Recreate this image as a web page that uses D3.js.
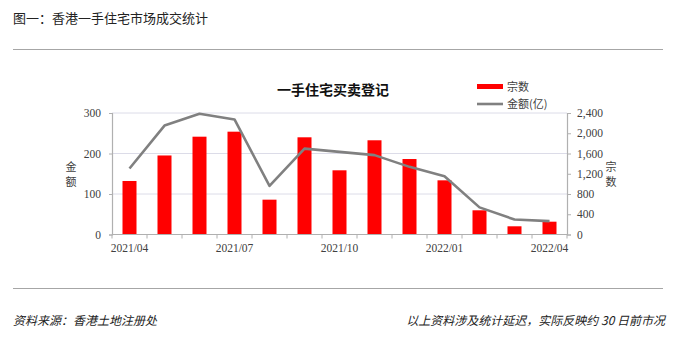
<!DOCTYPE html>
<html>
<head>
<meta charset="utf-8">
<script src="https://cdn.jsdelivr.net/npm/d3@7"></script>
<style>
  html, body { margin: 0; padding: 0; background: #fff; }
  svg { display: block; }
</style>
</head>
<body>
<svg id="chart" width="676" height="348"></svg>
<script>
// Monthly first-hand residential transactions, Hong Kong
const months = ["2021/04","2021/05","2021/06","2021/07","2021/08","2021/09","2021/10",
                "2021/11","2021/12","2022/01","2022/02","2022/03","2022/04"];
// number of deals (right axis)
const dealCounts = [1057, 1561, 1932, 2031, 688, 1920, 1268, 1861, 1491, 1070, 478, 162, 253];
// consideration, HK$ 100m (left axis)
const amounts = [163, 269, 298, 284, 120, 212, 204, 196, 167, 144, 67, 37, 33];
const leftTicks = [0, 100, 200, 300];
const rightTicks = [0, 400, 800, 1200, 1600, 2000, 2400];
const xLabelMonths = ["2021/04","2021/07","2021/10","2022/01","2022/04"];

const svg = d3.select("#chart");
const serif = "'Liberation Serif','DejaVu Serif',serif";
const cjk = "'Noto Sans CJK SC','Noto Sans CJK JP',sans-serif";

const plot = { left: 112, right: 567, top: 113, bottom: 234.5 };

const x = d3.scaleBand().domain(months)
  .range([plot.left, plot.right]).paddingInner(0.6).paddingOuter(0.3);
const yL = d3.scaleLinear().domain([0, 300]).range([plot.bottom, plot.top]);
const yR = d3.scaleLinear().domain([0, 2400]).range([plot.bottom, plot.top]);

// header
svg.append("text").attr("x", 13).attr("y", 23)
  .attr("font-family", cjk).attr("font-size", 13).attr("fill", "#222")
  .text("图一：香港一手住宅市场成交统计");
svg.append("line").attr("x1", 13).attr("x2", 663).attr("y1", 49.5).attr("y2", 49.5)
  .attr("stroke", "#a6a6a6").attr("stroke-width", 1.2);
svg.append("line").attr("x1", 13).attr("x2", 663).attr("y1", 288.5).attr("y2", 288.5)
  .attr("stroke", "#a6a6a6").attr("stroke-width", 1.2);

// footer
svg.append("text").attr("x", 13).attr("y", 325)
  .attr("font-family", cjk).attr("font-size", 12).attr("font-style", "italic")
  .attr("fill", "#222").text("资料来源：香港土地注册处");
svg.append("text").attr("x", 665).attr("y", 325).attr("text-anchor", "end")
  .attr("font-family", cjk).attr("font-size", 12).attr("font-style", "italic")
  .attr("fill", "#222").text("以上资料涉及统计延迟，实际反映约 30 日前市况");

// chart title
svg.append("text").attr("x", 333).attr("y", 95).attr("text-anchor", "middle")
  .attr("font-family", cjk).attr("font-size", 14).attr("font-weight", "bold")
  .attr("fill", "#111").text("一手住宅买卖登记");

// gridlines
svg.append("g").selectAll("line").data(leftTicks.filter(d => d > 0)).join("line")
  .attr("x1", plot.left).attr("x2", plot.right)
  .attr("y1", d => yL(d)).attr("y2", d => yL(d))
  .attr("stroke", "#dcdce8").attr("stroke-width", 1);

// bars: deal counts on the right scale
svg.append("g").selectAll("rect").data(months).join("rect")
  .attr("x", d => x(d)).attr("width", x.bandwidth())
  .attr("y", (d, i) => yR(dealCounts[i]))
  .attr("height", (d, i) => yR(0) - yR(dealCounts[i]))
  .attr("fill", "#ff0000");

// line: amount on the left scale
const line = d3.line()
  .x((d, i) => x(months[i]) + x.bandwidth() / 2)
  .y(d => yL(d));
svg.append("path").datum(amounts).attr("d", line)
  .attr("fill", "none").attr("stroke", "#808080").attr("stroke-width", 2.6)
  .attr("stroke-linejoin", "round");

// left axis
const axisL = svg.append("g").attr("transform", `translate(${plot.left},0)`)
  .call(d3.axisLeft(yL).tickValues(leftTicks).tickSize(3).tickPadding(8));
// right axis
const axisR = svg.append("g").attr("transform", `translate(${plot.right},0)`)
  .call(d3.axisRight(yR).tickValues(rightTicks).tickFormat(d3.format(",")).tickSize(4).tickPadding(6));
[axisL, axisR].forEach(a => {
  a.select(".domain").attr("stroke", "#b0b0b0").attr("stroke-width", 1.2);
  a.selectAll(".tick line").attr("stroke", "#b0b0b0");
  a.selectAll("text").attr("font-family", serif).attr("font-size", 11.5).attr("fill", "#404040");
});

// bottom axis: boundary ticks between months, labels every quarter
const boundaries = months.map(m => x(m) - x.step() * x.paddingInner() / 2)
  .concat([x(months[months.length - 1]) + x.bandwidth() + x.step() * x.paddingInner() / 2]);
const gx = svg.append("g");
gx.append("line").attr("x1", plot.left).attr("x2", plot.right)
  .attr("y1", plot.bottom).attr("y2", plot.bottom)
  .attr("stroke", "#b0b0b0").attr("stroke-width", 1.2);
gx.selectAll(".bt").data(boundaries).join("line").attr("class", "bt")
  .attr("x1", d => d).attr("x2", d => d)
  .attr("y1", plot.bottom).attr("y2", plot.bottom + 4)
  .attr("stroke", "#b0b0b0");
const axisB = svg.append("g").attr("transform", `translate(0,${plot.bottom})`)
  .call(d3.axisBottom(x).tickValues(xLabelMonths).tickSize(0).tickPadding(9));
axisB.select(".domain").remove();
axisB.selectAll("text").attr("font-family", serif).attr("font-size", 11.5).attr("fill", "#404040");

// axis titles, stacked vertically
const stack = (xPos, chars) => chars.forEach((c, i) =>
  svg.append("text").attr("x", xPos).attr("y", 171 + i * 15).attr("text-anchor", "middle")
    .attr("font-family", cjk).attr("font-size", 11).attr("fill", "#404040").text(c));
stack(71, ["金", "额"]);
stack(611, ["宗", "数"]);

// legend
svg.append("rect").attr("x", 477).attr("y", 84).attr("width", 26).attr("height", 5).attr("fill", "#ff0000");
svg.append("text").attr("x", 507).attr("y", 91).attr("font-family", cjk).attr("font-size", 11)
  .attr("fill", "#404040").text("宗数");
svg.append("line").attr("x1", 477).attr("x2", 503).attr("y1", 104).attr("y2", 104)
  .attr("stroke", "#808080").attr("stroke-width", 2.6);
svg.append("text").attr("x", 507).attr("y", 108).attr("font-family", cjk).attr("font-size", 11)
  .attr("fill", "#404040").text("金额(亿)");
</script>
</body>
</html>
